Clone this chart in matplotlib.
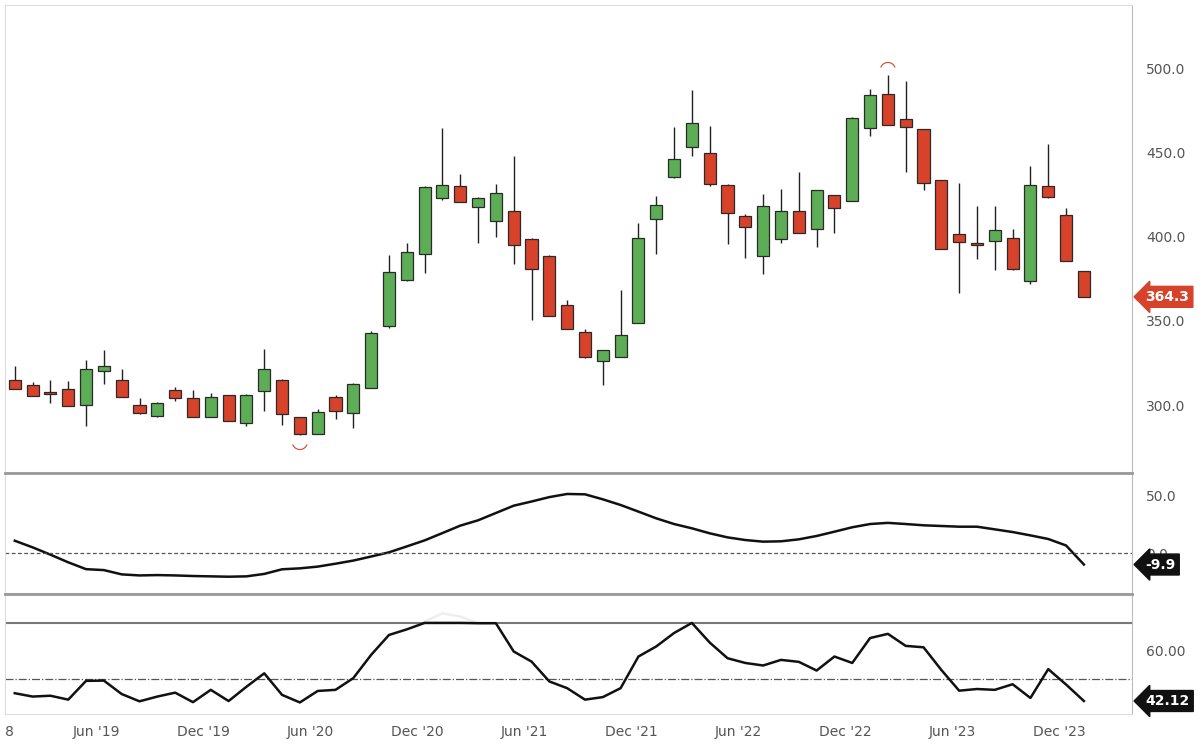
import numpy as np
import matplotlib.pyplot as plt
from matplotlib.path import Path

# monthly candles, Jan 2019 .. Jan 2024
opens = [314.4, 311.9, 307.5, 309.3, 300.4, 320.4, 314.4, 299.6, 293.9, 308.9,
         303.8, 293.5, 305.6, 289.7, 308.9, 314.8, 292.5, 283.2, 304.6, 295.7,
         310.5, 347.5, 374.6, 390.0, 423.2, 430.0, 417.7, 409.6, 414.7, 398.3,
         388.4, 359.3, 343.1, 326.7, 329.1, 348.9, 410.8, 435.5, 453.7, 449.4,
         430.4, 412.2, 389.0, 398.9, 414.7, 404.9, 424.2, 421.3, 464.6, 484.2,
         469.5, 463.6, 433.1, 401.1, 395.8, 397.9, 399.1, 374.2, 430.0, 412.4, 379.3]
closes = [309.9, 305.9, 306.8, 300.0, 321.2, 323.2, 305.3, 295.5, 301.0, 304.4,
          293.1, 304.6, 291.1, 305.6, 321.4, 295.0, 283.2, 295.9, 297.0, 312.5,
          342.5, 378.5, 390.4, 429.2, 430.6, 420.7, 422.9, 425.6, 395.4, 381.1,
          353.4, 345.5, 328.7, 332.2, 341.5, 398.7, 418.5, 445.8, 467.2, 431.6,
          414.3, 406.2, 418.1, 414.7, 402.7, 427.6, 417.3, 470.1, 483.6, 466.8,
          465.6, 432.0, 393.0, 396.9, 395.6, 403.5, 380.9, 430.6, 423.6, 385.7, 364.3]
highs = [323.2, 313.8, 314.8, 314.4, 327.1, 332.6, 321.2, 304.4, 302.0, 310.5,
         308.9, 307.3, 306.0, 306.5, 333.4, 315.5, 293.0, 298.0, 306.0, 313.0,
         344.1, 389.0, 396.3, 430.0, 464.8, 437.1, 423.5, 431.2, 448.0, 399.0,
         389.0, 362.7, 345.0, 333.0, 368.3, 408.4, 424.4, 465.2, 487.3, 465.6,
         431.0, 413.5, 425.6, 428.6, 438.5, 428.0, 425.0, 471.0, 487.9, 495.9,
         492.5, 464.0, 433.5, 432.0, 418.1, 418.5, 404.3, 441.8, 454.9, 417.3, 379.8]
lows = [309.3, 305.5, 301.4, 300.0, 287.5, 312.5, 305.0, 295.0, 293.0, 302.4,
        293.0, 293.0, 291.0, 287.5, 296.4, 288.5, 282.2, 283.0, 291.7, 286.7,
        310.0, 345.9, 374.0, 378.5, 421.7, 420.5, 396.3, 399.9, 383.7, 350.8,
        353.0, 345.0, 328.0, 311.9, 328.5, 348.5, 390.0, 435.0, 447.8, 430.0,
        395.9, 387.6, 377.7, 396.0, 402.5, 393.6, 402.3, 421.0, 459.6, 466.5,
        438.3, 427.6, 392.5, 366.7, 386.5, 380.5, 380.5, 371.8, 423.0, 385.5, 364.0]

momentum = [10.6, 4.9, -1.4, -8.0, -13.9, -14.7, -18.4, -19.3, -19.0, -19.3,
            -19.8, -20.1, -20.4, -20.1, -18.0, -14.0, -13.2, -11.7, -9.2, -6.5,
            -3.0, 0.6, 5.7, 10.9, 17.2, 23.6, 28.2, 34.5, 40.8, 44.4,
            48.2, 50.9, 50.6, 46.3, 41.4, 35.7, 29.9, 25.0, 21.3, 17.0,
            13.5, 11.2, 9.8, 10.1, 11.8, 14.7, 18.4, 22.2, 25.0, 26.0,
            25.0, 23.9, 23.3, 22.7, 22.7, 20.4, 18.1, 15.2, 12.1, 6.5, -9.9]

rsi = [44.9, 43.7, 44.0, 42.6, 49.3, 49.4, 44.6, 42.0, 43.7, 45.1,
       41.7, 46.1, 42.1, 47.2, 52.0, 44.3, 41.6, 45.7, 46.1, 50.3,
       58.6, 65.7, 67.7, 70.5, 73.4, 72.3, 69.9, 69.9, 59.8, 56.2,
       49.1, 46.7, 42.6, 43.5, 46.7, 58.0, 61.6, 66.4, 70.0, 63.0,
       57.4, 55.7, 54.8, 56.8, 56.1, 53.0, 58.0, 55.7, 64.6, 66.1,
       61.8, 61.3, 53.2, 45.8, 46.4, 46.1, 48.1, 43.2, 53.5, 48.0, 42.12]

tick_pos = [4.6, 10.6, 16.6, 22.6, 28.6, 34.6, 40.6, 46.6, 52.6, 58.6]
tick_labels = ["Jun '19", "Dec '19", "Jun '20", "Dec '20", "Jun '21",
               "Dec '21", "Jun '22", "Dec '22", "Jun '23", "Dec '23"]

GREEN = '#5cad55'
RED = '#d6432a'
GREY = '#555555'

x = np.arange(len(opens))
fig = plt.figure(figsize=[12, 7.46], dpi=100)
W = 1132 / 1200
ax1 = fig.add_axes([0.004, 0.367, W - 0.004, 0.626])
ax2 = fig.add_axes([0.004, 0.205, W - 0.004, 0.161])
ax3 = fig.add_axes([0.004, 0.043, W - 0.004, 0.161])

for ax in (ax1, ax2, ax3):
    ax.set_xlim(-0.56, 62.7)
    ax.yaxis.tick_right()
    ax.tick_params(axis='y', length=0, labelcolor=GREY, labelsize=10, pad=10)
    ax.tick_params(axis='x', length=0)
    ax.set_xticks([])
    for s in ax.spines.values():
        s.set_color('#dddddd')
    ax.spines['right'].set_color('#bbbbbb')

##__candles
o, c, h, l = map(np.array, (opens, closes, highs, lows))
up = c >= o
ax1.vlines(x, l, h, color='#222222', lw=1, zorder=1)
ax1.bar(x, np.abs(c - o) + 0.6, bottom=np.minimum(o, c) - 0.3, width=0.68,
        color=np.where(up, GREEN, RED), edgecolor='#2a2a2a', lw=0.9, zorder=2)
ax1.set_ylim(260.2, 537.4)
ax1.set_yticks([300, 350, 400, 450, 500])
ax1.set_yticklabels(['300.0', '350.0', '400.0', '450.0', '500.0'])
lo_arc = Path.arc(200, 340)
hi_arc = Path.arc(20, 160)
imin, imax = int(np.argmin(l)), int(np.argmax(h))
ax1.scatter([imin], [l[imin] - 4], marker=lo_arc, s=120, facecolor='none', edgecolor=RED, lw=0.8)
ax1.scatter([imax], [h[imax] + 3], marker=hi_arc, s=120, facecolor='none', edgecolor=RED, lw=0.8)
ax1.text(1.012, (c[-1] - 260.2) / (537.4 - 260.2), f'{c[-1]:.1f}', transform=ax1.transAxes,
         ha='left', va='center', color='white', fontsize=10, fontweight='bold',
         bbox=dict(boxstyle='larrow,pad=0.25', fc=RED, ec=RED))

##__momentum
ax2.plot(x, momentum, color='#111111', lw=1.8)
ax2.axhline(0, color='#555555', lw=0.9, ls=(0, (3, 2)))
ax2.set_ylim(-34.5, 69)
ax2.set_yticks([0, 50])
ax2.set_yticklabels(['0.0', '50.0'])
ax2.spines['top'].set_color('#999999')
ax2.spines['top'].set_linewidth(2)
ax2.text(1.012, (momentum[-1] + 34.5) / 103.5, f'{momentum[-1]:.1f}', transform=ax2.transAxes,
         ha='left', va='center', color='white', fontsize=10, fontweight='bold',
         bbox=dict(boxstyle='larrow,pad=0.25', fc='#111111', ec='#111111'))

##__rsi
r = np.array(rsi)
ax3.plot(x, np.minimum(r, 70), color='#111111', lw=1.8, zorder=3)
ax3.plot(x, np.where(r >= 69.9, r, np.nan), color='#eeeeee', lw=1.8, zorder=2)
ax3.axhline(70, color='#777777', lw=1.5)
ax3.axhline(50, color='#555555', lw=0.9, ls='-.')
ax3.set_ylim(37.5, 80.4)
ax3.set_yticks([60])
ax3.set_yticklabels(['60.00'])
ax3.spines['top'].set_color('#999999')
ax3.spines['top'].set_linewidth(2)
ax3.text(1.012, (rsi[-1] - 37.5) / 42.9, f'{rsi[-1]:.2f}', transform=ax3.transAxes,
         ha='left', va='center', color='white', fontsize=10, fontweight='bold',
         bbox=dict(boxstyle='larrow,pad=0.25', fc='#111111', ec='#111111'))
ax3.set_xticks(tick_pos)
ax3.set_xticklabels(tick_labels, color=GREY, fontsize=10)
ax3.tick_params(axis='x', pad=8)
ax3.text(0.0, -0.09, '8', transform=ax3.transAxes, ha='left', va='top', color=GREY, fontsize=10)

plt.savefig('out.png')
